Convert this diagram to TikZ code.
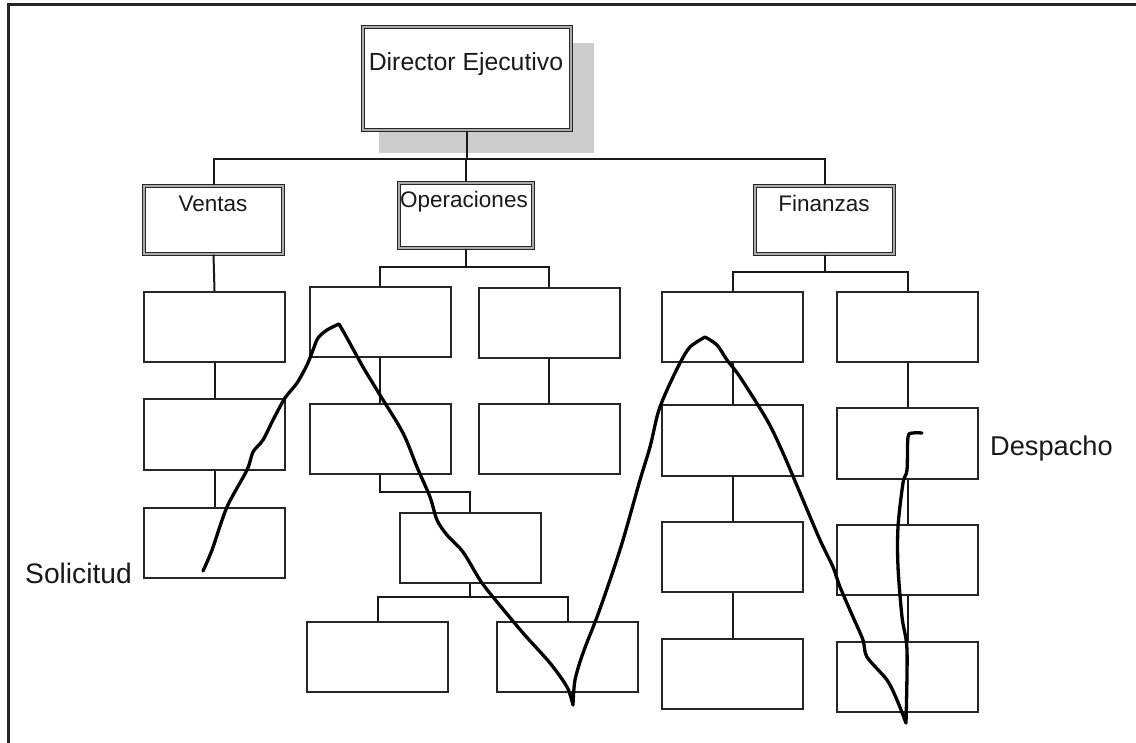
\documentclass[tikz,border=0pt]{standalone}
\usepackage{fontspec}
\setmainfont{Liberation Sans}
\begin{document}
\begin{tikzpicture}[x=1pt,y=-1pt,
  dbox/.style={draw=black!85, double=gray!65, double distance=2pt, line width=1.1pt, fill=white, inner sep=0pt},
  pbox/.style={draw=black!85, line width=2pt, fill=white, minimum width=141pt, minimum height=70pt, inner sep=0pt},
  link/.style={draw=black!90, line width=2pt},
  lbl/.style={text=black!90, inner sep=0pt, anchor=base},
  headfont/.style={font=\fontsize{24.8}{29}\selectfont},
  unitfont/.style={font=\fontsize{22.5}{27}\selectfont},
  solfont/.style={font=\fontsize{28.2}{33}\selectfont},
  despfont/.style={font=\fontsize{27.2}{32}\selectfont},
  pen/.style={draw=black, line width=3.3pt, line cap=round, line join=round},
  frame/.style={draw=black!85, line width=3pt}
]
\useasboundingbox (0,0) rectangle (1136,743);

% page frame (top and left edges)
\draw[frame] (8,743) -- (8,5) -- (1136,5);

% top box with its shadow
\node[dbox, minimum width=208pt, minimum height=103pt] (dir) at (467,78.5) {};
\fill[gray!40] ([shift={(17,17)}]dir.north west) rectangle ([shift={(22,22)}]dir.south east);
\node[dbox, minimum width=208pt, minimum height=103pt] at (dir.center) {};
\node[lbl, headfont] (dirT) at (466,71) {Director Ejecutivo};

% department boxes
\node[dbox, minimum width=139pt, minimum height=68pt] (ventas) at (213.5,220) {};
\node[dbox, minimum width=134pt, minimum height=65pt] (ops) at (466,215.5) {};
\node[dbox, minimum width=139pt, minimum height=68pt] (fin) at (824.5,220) {};
\node[lbl, unitfont] (ventasT) at (213,212) {Ventas};
\node[lbl, unitfont] (opsT) at (464,208) {Operaciones};
\node[lbl, unitfont] (finT) at (824,212) {Finanzas};

% sales column
\node[pbox] (v1) at (214.5,327) {};
\node[pbox] (v2) at (214.5,434.5) {};
\node[pbox] (v3) at (214.5,543) {};

% operations tree
\node[pbox] (oa1) at (380,322.5) {};
\node[pbox] (oa2) at (380,439) {};
\node[pbox] (or1) at (549,323) {};
\node[pbox] (or2) at (549,439) {};
\node[pbox] (oa3) at (470,548) {};
\node[pbox] (ob1) at (377.5,657) {};
\node[pbox] (ob2) at (567.5,657) {};

% finance columns
\node[pbox] (f1) at (732.5,327) {};
\node[pbox] (f2) at (732.5,440.5) {};
\node[pbox] (f3) at (732.5,557) {};
\node[pbox] (f4) at (732.5,674) {};
\node[pbox] (g1) at (907.5,327) {};
\node[pbox] (g2) at (907.5,443.5) {};
\node[pbox] (g3) at (907.5,560) {};
\node[pbox] (g4) at (907.5,677) {};

% connectors
\draw[link] (dir.south) -- (dir.south |- 0,159) coordinate (topbus);
\draw[link] (ventas.north) |- (topbus) -| (fin.north);
\draw[link] (ops.north) -- (ops.north |- topbus);

\draw[link] (ventas.south) -- (v1.north);
\draw[link] (v1.south) -- (v2.north);
\draw[link] (v2.south) -- (v3.north);

\draw[link] (ops.south) -- (ops.south |- 0,267) coordinate (opsbus);
\draw[link] (oa1.north) |- (opsbus) -| (or1.north);
\draw[link] (oa1.south) -- (oa2.north);
\draw[link] (or1.south) -- (or2.north);
\draw[link] (oa2.south) |- (oa3.north |- 0,492) -- (oa3.north);
\draw[link] (oa3.south) -- (oa3.south |- 0,597) coordinate (lowbus);
\draw[link] (ob1.north) |- (lowbus) -| (ob2.north);

\draw[link] (fin.south) -- (fin.south |- 0,272) coordinate (finbus);
\draw[link] (f1.north) |- (finbus) -| (g1.north);
\draw[link] (f1.south) -- (f2.north);
\draw[link] (f2.south) -- (f3.north);
\draw[link] (f3.south) -- (f4.north);
\draw[link] (g1.south) -- (g2.north);
\draw[link] (g2.south) -- (g3.north);
\draw[link] (g3.south) -- (g4.north);

% side notes
\node[lbl, solfont, anchor=base west] (sol) at (25,583) {Solicitud};
\node[lbl, despfont, anchor=base west] (desp) at (990,455) {Despacho};

% hand-drawn route
\draw[pen]
  plot[smooth, tension=0.5] coordinates {(203,571) (212,550) (227,507) (247,470) (253,452) (263,440) (273,420) (285,398) (297,383) (307,365) (313,350) (318,338) (327,330) (339,324)}
  -- plot[smooth, tension=0.5] coordinates {(339,324) (347,338) (363,367) (380,395) (403,433) (417,467) (430,497) (437,520) (447,535) (463,552) (480,580) (493,597) (523,633) (550,663) (567,687) (573,705)}
  -- plot[smooth, tension=0.5] coordinates {(573,705) (575,680) (583,653) (597,617) (610,580) (623,540) (640,480) (650,447) (658,413) (667,390) (680,363) (690,347) (705,337)}
  -- plot[smooth, tension=0.5] coordinates {(705,337) (717,345) (727,360) (740,377) (767,420) (783,453) (803,500) (820,540) (833,567) (840,587) (853,617) (863,640) (867,657) (887,680) (897,700) (906,723)}
  -- plot[smooth, tension=0.5] coordinates {(906,723) (907,650) (902,617) (898,567) (898,527) (903,483) (907,470) (908,437) (913,433) (922,433)};
\end{tikzpicture}
\end{document}
